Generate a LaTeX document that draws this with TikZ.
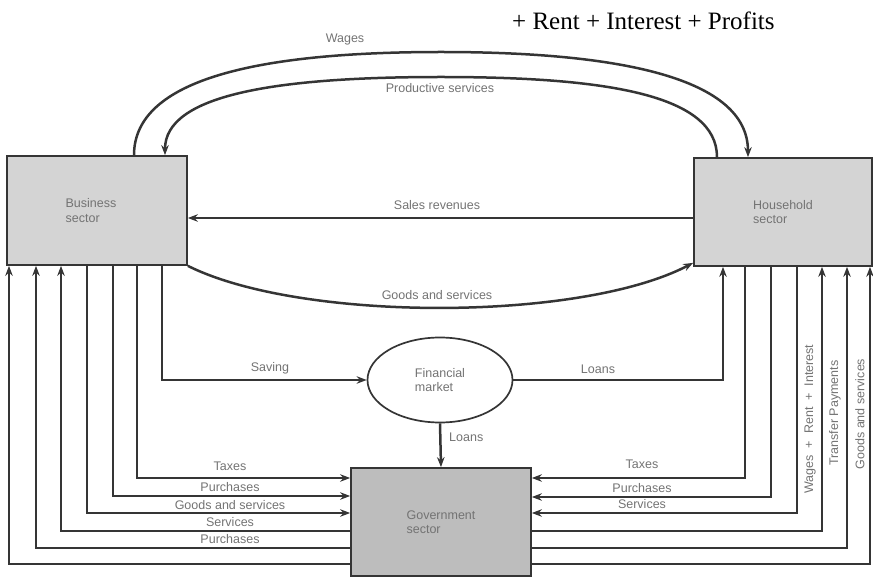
\documentclass[tikz,border=0pt]{standalone}
\usepackage{fontspec}
\setmainfont{Liberation Sans}
\newfontfamily\timesf{Liberation Serif}
\usetikzlibrary{arrows.meta,shapes.geometric,calc}
\definecolor{linec}{HTML}{353535}
\definecolor{txtc}{HTML}{737373}
\definecolor{boxa}{HTML}{D4D4D4}
\definecolor{boxg}{HTML}{BDBDBD}
\begin{document}
\begin{tikzpicture}[x=1pt,y=-1pt,
  flow/.style={draw=linec,line width=2.5pt},
  arr/.style={flow,-{Stealth[length=10pt,width=7.5pt]}},
  lbl/.style={text=txtc,font=\fontsize{12.5}{13.5}\selectfont,inner sep=0pt},
  sectorbox/.style={draw=linec,line width=1.7pt,fill=boxa,inner sep=0pt,
     text=txtc,align=left,font=\fontsize{12.5}{14.5}\selectfont},
  finbox/.style={ellipse,draw=linec,line width=1.7pt,fill=white,inner sep=0pt,
     text=txtc,align=left,font=\fontsize{12.5}{14.5}\selectfont,
     minimum width=145pt,minimum height=85pt}]
\useasboundingbox (0,0) rectangle (873,577);

% sector boxes
\node[sectorbox,minimum width=180pt,minimum height=109pt] (bus) at (97,210.5) {Business\hspace*{12pt}\\sector};
\node[sectorbox,minimum width=178pt,minimum height=108pt] (hh) at (783,212) {Household\\sector};
\node[sectorbox,fill=boxg,minimum width=180pt,minimum height=108pt] (gov) at (441,522) {Government\\sector};
\node[finbox] (fin) at (440,380) {Financial\\market};

% top annotation
\node[anchor=west,inner sep=0pt,font=\timesf\fontsize{25}{25}\selectfont] (title) at (512,21) {+ Rent + Interest + Profits};

% top arcs
\draw[arr] (134,0 |- bus.north) .. controls (134,78) and (262,52) .. (441,52)
                               .. controls (620,52) and (748,78) .. (748,0 |- hh.north);
\draw[arr] (717,0 |- hh.north) .. controls (717,95) and (607,77) .. (441,77)
                               .. controls (275,77) and (165,95) .. (165,0 |- bus.north);
\node[lbl] (lwages) at (345,40) {Wages};
\node[lbl] (lprod) at (440,88) {Productive services};

% sales revenues and goods
\draw[arr] (hh.west |- 0,218) -- (bus.east |- 0,218);
\node[lbl] (lsales) at (437,205) {Sales revenues};
\draw[arr] (bus.south east) .. controls (300,322) and (580,322) .. ($(hh.south west)+(0,-4)$);
\node[lbl] (lgoods) at (437,295) {Goods and services};

% financial market
\draw[arr] (162,0 |- bus.south) |- (fin.west);
\node[lbl] (lsaving) at (270,368) {Saving};
\draw[arr] (fin.east) -| (723,0 |- hh.south);
\node[lbl] (lloans1) at (598,369) {Loans};
\draw[arr] (fin.south) -- (gov.north);
\node[lbl,anchor=west] (lloans2) at (449,437) {Loans};

% business <-> government
\draw[arr] (137,0 |- bus.south) |- (gov.west |- 0,478);
\draw[arr] (113,0 |- bus.south) |- (gov.west |- 0,496);
\draw[arr] (87,0 |- bus.south) |- (gov.west |- 0,513);
\draw[arr] (gov.west |- 0,531) -| (61,0 |- bus.south);
\draw[arr] (gov.west |- 0,548) -| (36,0 |- bus.south);
\draw[arr] (gov.west |- 0,564) -| (9,0 |- bus.south);
\node[lbl] (lb1) at (230,466) {Taxes};
\node[lbl] (lb2) at (230,487) {Purchases};
\node[lbl] (lb3) at (230,505) {Goods and services};
\node[lbl] (lb4) at (230,522) {Services};
\node[lbl] (lb5) at (230,539) {Purchases};

% household <-> government
\draw[arr] (745,0 |- hh.south) |- (gov.east |- 0,478);
\draw[arr] (771,0 |- hh.south) |- (gov.east |- 0,497);
\draw[arr] (797,0 |- hh.south) |- (gov.east |- 0,513);
\draw[arr] (gov.east |- 0,531) -| (822,0 |- hh.south);
\draw[arr] (gov.east |- 0,548) -| (847,0 |- hh.south);
\draw[arr] (gov.east |- 0,564) -| (870,0 |- hh.south);
\node[lbl] (lh1) at (642,464) {Taxes};
\node[lbl] (lh2) at (642,488) {Purchases};
\node[lbl] (lh3) at (642,504) {Services};
\node[lbl,rotate=90] (lv1) at (810,419) {Wages \ + \ Rent \ + \ Interest};
\node[lbl,rotate=90] (lv2) at (835,413) {Transfer Payments};
\node[lbl,rotate=90] (lv3) at (860,414) {Goods and services};
\end{tikzpicture}
\end{document}
